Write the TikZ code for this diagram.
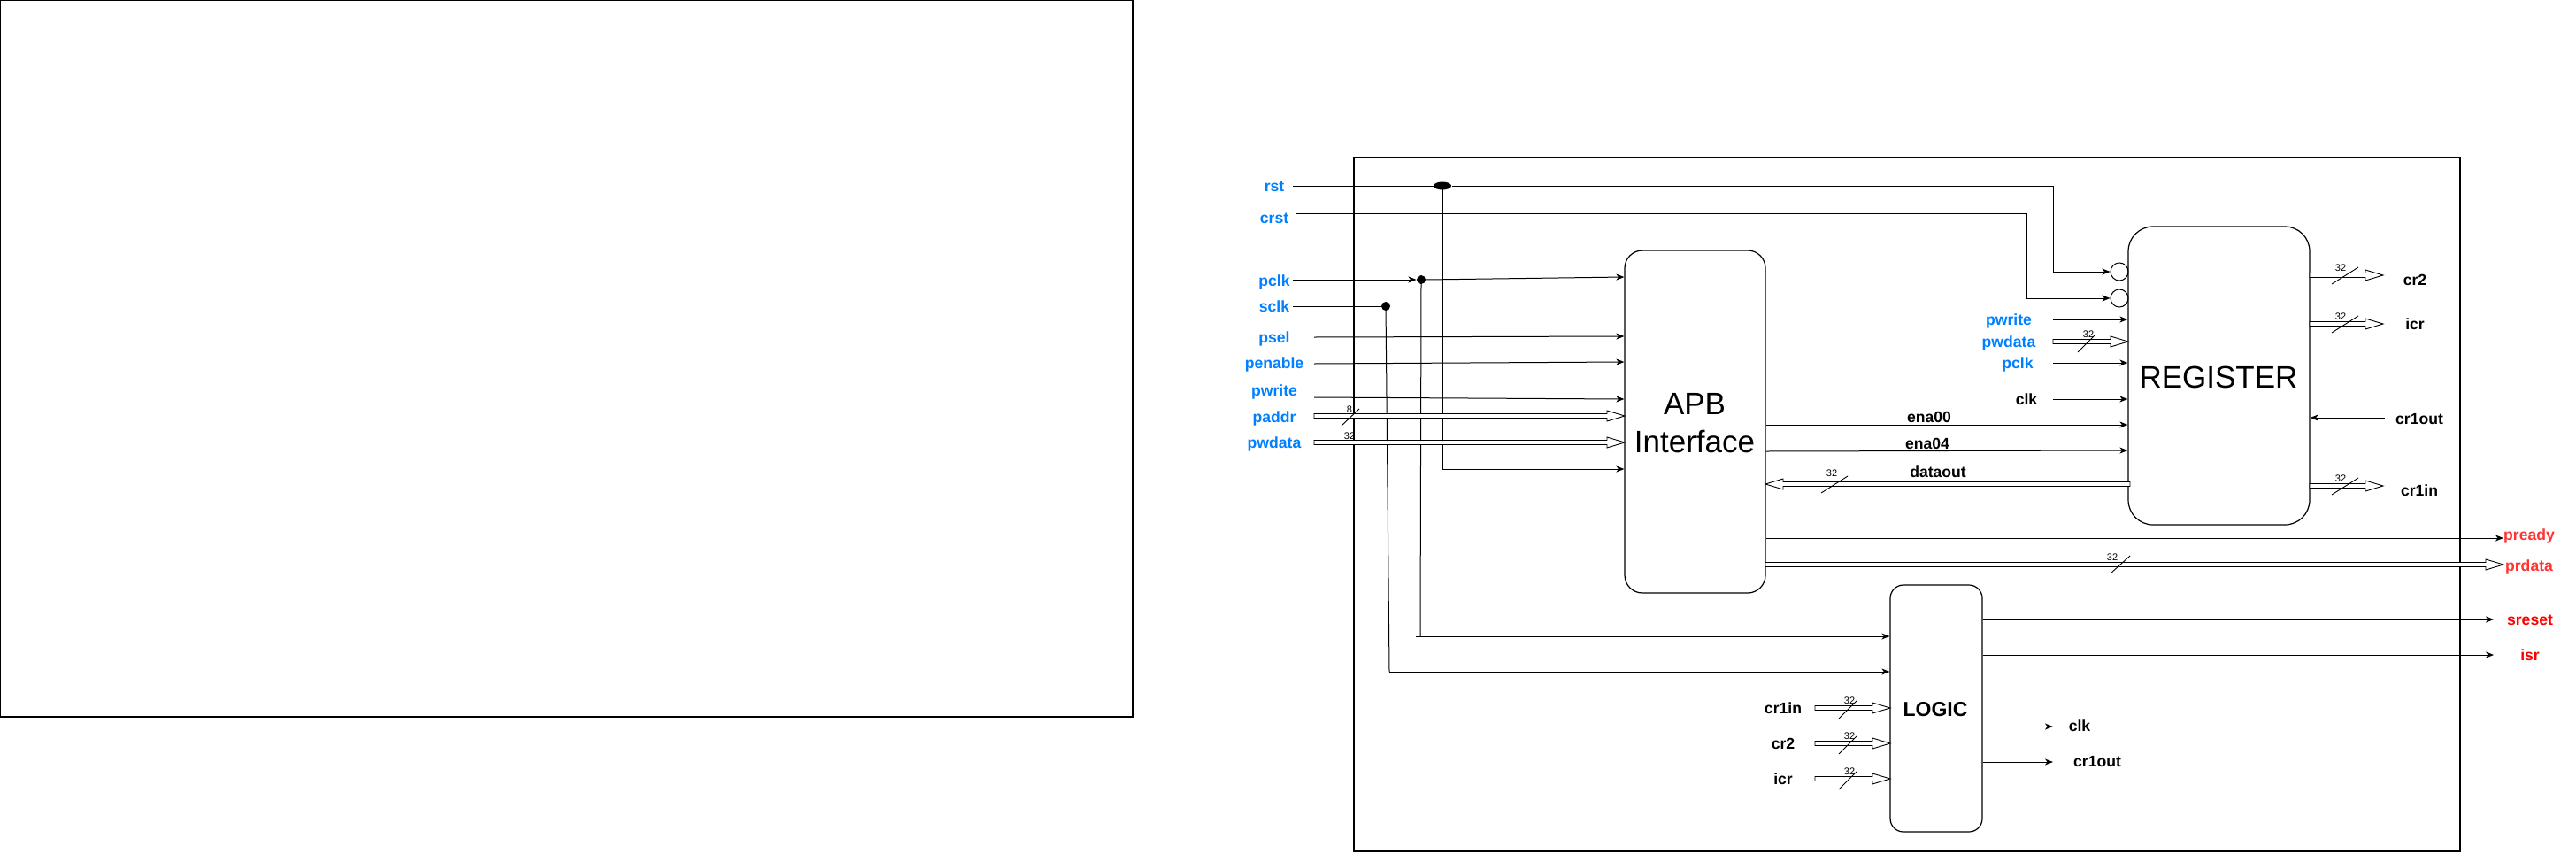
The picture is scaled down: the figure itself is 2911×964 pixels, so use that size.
\documentclass[tikz,border=0pt]{standalone}
\usepackage{fontspec}
\setmainfont{Liberation Sans}
\usetikzlibrary{arrows.meta,shapes.geometric}
\definecolor{lblue}{RGB}{0,127,255}
\definecolor{lred}{RGB}{255,51,51}
\definecolor{sred}{RGB}{255,0,0}
\newcommand\hbus[3]{%
  \pgfmathsetmacro\hbh{(#2>#1)?(#2-20):(#2+20)}%
  \draw[bus] (#1,#3-2.5) -- (\hbh,#3-2.5) -- (\hbh,#3-6) -- (#2,#3) -- (\hbh,#3+6) -- (\hbh,#3+2.5) -- (#1,#3+2.5) -- cycle;}
\begin{document}
\begin{tikzpicture}[x=1pt,y=-1pt, line width=1pt,
  >={Stealth[length=9pt,width=7pt,inset=2.5pt]},
  box/.style={draw, line width=1.2pt, inner sep=0pt},
  lbl/.style={font=\fontsize{17.6}{20}\selectfont\bfseries, anchor=base, inner sep=0pt},
  bl/.style={lbl, text=lblue},
  rl/.style={lbl, text=lred},
  sl/.style={lbl, text=sred},
  wn/.style={font=\fontsize{11}{12}\selectfont, anchor=base, inner sep=0pt},
  bus/.style={draw, line width=0.9pt, fill=white},
  slash/.style={line width=0.9pt},
  big/.style={font=\fontsize{35}{40}\selectfont, anchor=base, inner sep=0pt}]
\useasboundingbox (0,0) rectangle (2911,964);

% frames
\draw[line width=1.3pt] (0.75,0.75) rectangle (1280,810);
\draw[line width=1.3pt] (1530,178) rectangle (2780,962);

% boxes
\node[box, rounded corners=20pt, minimum width=159pt, minimum height=387pt] (apb) at (1915.5,476.5) {};
\node[box, rounded corners=28pt, minimum width=205pt, minimum height=337pt] (reg) at (2507.5,424.5) {};
\node[box, rounded corners=15pt, minimum width=104pt, minimum height=279pt] (logic) at (2188,800.5) {};
\node[big] (apbt1) at (1915,468) {APB};
\node[big] (apbt2) at (1915,511) {Interface};
\node[big] (regt) at (2507,438) {REGISTER};
\node[font=\fontsize{23}{26}\selectfont\bfseries, anchor=base, inner sep=0pt] (logt) at (2187,809) {LOGIC};

% inverting circles and dots
\node[draw, circle, minimum size=20pt, inner sep=0pt, line width=1pt] (c1) at (2395,307) {};
\node[draw, circle, minimum size=20pt, inner sep=0pt, line width=1pt] (c2) at (2395,337) {};
\node[fill, ellipse, minimum width=20pt, minimum height=9pt, inner sep=0pt] (rdot) at (1630,210) {};
\node[fill, circle, minimum size=10pt, inner sep=0pt] (pdot) at (1606,316) {};
\node[fill, circle, minimum size=10pt, inner sep=0pt] (sdot) at (1566,346) {};

% left labels
\node[bl] (l-rst) at (1440,216) {rst};
\node[bl] (l-crst) at (1440,252) {crst};
\node[bl] (l-pclk) at (1440,323) {pclk};
\node[bl] (l-sclk) at (1440,352) {sclk};
\node[bl] (l-psel) at (1440,387) {psel};
\node[bl] (l-pen) at (1440,416) {penable};
\node[bl] (l-pwr) at (1440,447) {pwrite};
\node[bl] (l-paddr) at (1440,477) {paddr};
\node[bl] (l-pwd) at (1440,506) {pwdata};

% rst / crst
\draw (1461,210) -- (rdot.west);
\draw[->] (rdot.east) -- (2320,210) -- (2320,307) -- (c1.west);
\draw[->] (rdot.center) -- (1630,530) -- (apb.west |- 0,530);
\draw[->] (1464,241) -- (2290,241) -- (2290,337) -- (c2.west);

% pclk / sclk
\draw[->] (1461,316) -- (pdot.west);
\draw[->] (pdot.east) -- (apb.west |- 0,313);
\draw (pdot.center) -- (1605,719);
\draw[->] (1600,719) -- (logic.west |- 0,719);
\draw (1461,346) -- (sdot.west);
\draw (sdot.center) -- (1570,759);
\draw[->] (1570,759) -- (logic.west |- 0,759);

% APB inputs
\draw[->] (1485,381) -- (apb.west |- 0,380);
\draw[->] (1485,411) -- (apb.west |- 0,409);
\draw[->] (1485,449) -- (apb.west |- 0,451);
\hbus{1485}{1836}{470}
\hbus{1485}{1836}{500}
\draw[slash] (1516,481) -- (1536,462);
\node[wn] (w8) at (1525,466) {8};
\node[wn] (w32a) at (1525,496) {32};

% APB outputs
\draw[->] (apb.east |- 0,480) -- (reg.west |- 0,480);
\draw[->] (apb.east |- 0,510) -- (reg.west |- 0,509);
\hbus{2407}{1995}{547}
\draw[slash] (2058,557) -- (2088,538);
\node[wn] (w32b) at (2070,538) {32};
\node[lbl] (l-ena00) at (2180,477) {ena00};
\node[lbl] (l-ena04) at (2178,507) {ena04};
\node[lbl] (l-dout) at (2190,539) {dataout};
\draw[->] (apb.east |- 0,608) -- (2829,608);
\hbus{1995}{2829}{638}
\draw[slash] (2385,648) -- (2407,628);
\node[wn] (w32c) at (2387,633) {32};
\node[rl] (l-pready) at (2858,610) {pready};
\node[rl] (l-prdata) at (2858,645) {prdata};

% REGISTER inputs
\node[bl] (r-pwr) at (2270,367) {pwrite};
\node[bl] (r-pwd) at (2270,392) {pwdata};
\node[bl] (r-pclk) at (2280,416) {pclk};
\node[lbl] (r-clk) at (2290,457) {clk};
\draw[->] (2320,361) -- (reg.west |- 0,361);
\hbus{2320}{2405}{386}
\draw[slash] (2348,398) -- (2368,378);
\node[wn] (w32d) at (2360,381) {32};
\draw[->] (2320,410) -- (reg.west |- 0,410);
\draw[->] (2320,451) -- (reg.west |- 0,451);

% REGISTER outputs
\hbus{2610}{2693}{311}
\draw[slash] (2635,321) -- (2665,302);
\node[wn] (w32e) at (2645,306) {32};
\hbus{2610}{2693}{366}
\draw[slash] (2635,376) -- (2665,357);
\node[wn] (w32f) at (2645,361) {32};
\draw[->] (2695,472) -- (reg.east |- 0,472);
\hbus{2610}{2693}{549}
\draw[slash] (2635,559) -- (2665,540);
\node[wn] (w32g) at (2645,544) {32};
\node[lbl] (o-cr2) at (2729,322) {cr2};
\node[lbl] (o-icr) at (2729,372) {icr};
\node[lbl] (o-cr1out) at (2734,479) {cr1out};
\node[lbl] (o-cr1in) at (2734,560) {cr1in};

% LOGIC
\hbus{2051}{2136}{800}
\draw[slash] (2078,812) -- (2098,792);
\node[wn] (w32h) at (2090,795) {32};
\hbus{2051}{2136}{840}
\draw[slash] (2078,852) -- (2098,832);
\node[wn] (w32i) at (2090,835) {32};
\hbus{2051}{2136}{880}
\draw[slash] (2078,892) -- (2098,872);
\node[wn] (w32j) at (2090,875) {32};
\node[lbl] (g-cr1in) at (2015,806) {cr1in};
\node[lbl] (g-cr2) at (2015,846) {cr2};
\node[lbl] (g-icr) at (2015,886) {icr};
\draw[->] (logic.east |- 0,700) -- (2818,700);
\draw[->] (logic.east |- 0,740) -- (2818,740);
\draw[->] (logic.east |- 0,821) -- (2320,821);
\draw[->] (logic.east |- 0,861) -- (2320,861);
\node[sl] (g-sreset) at (2859,706) {sreset};
\node[sl] (g-isr) at (2859,746) {isr};
\node[lbl] (g-clk) at (2350,826) {clk};
\node[lbl] (g-cr1out) at (2370,866) {cr1out};
\end{tikzpicture}
\end{document}
